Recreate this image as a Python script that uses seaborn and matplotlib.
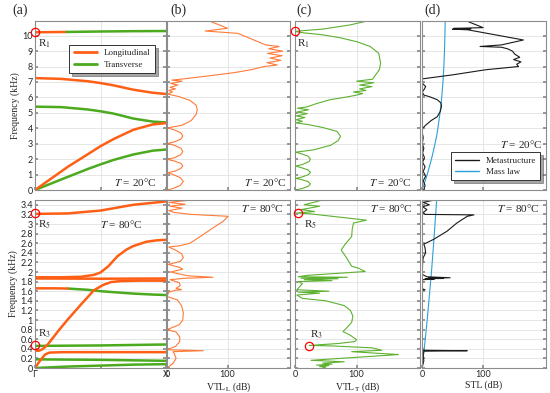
import numpy as np
import matplotlib.pyplot as plt
import seaborn as sns
from matplotlib.lines import Line2D

sns.set_theme(style='whitegrid')
plt.rcParams['font.family'] = ['Liberation Serif', 'DejaVu Serif']
plt.rcParams['mathtext.fontset'] = 'stix'

# colours
c_or = '#FF5F15'
c_gr = '#4BAA1E'
c_or_tl = '#FF7A38'
c_gr_tl = '#5DB130'
c_blk = '#1a1a1a'
c_blue = '#2C9FD8'

# ---------------- band structure, T = 20 C (k from Gamma to X) ----------------
k20_L1 = [0, 0.24]
f20_L1 = [10.22, 10.24]
k20_T1 = [0.24, 0.5, 0.75, 1.0]
f20_T1 = [10.24, 10.27, 10.29, 10.30]
k20_L2 = [0, 0.2, 0.4, 0.5, 0.6, 0.75, 0.9, 1.0]
f20_L2 = [7.25, 7.2, 7.05, 6.93, 6.78, 6.5, 6.3, 6.22]
k20_T2 = [0, 0.2, 0.4, 0.5, 0.6, 0.75, 0.9, 1.0]
f20_T2 = [5.4, 5.37, 5.22, 5.1, 4.95, 4.63, 4.43, 4.38]
k20_L3 = [0, 0.1, 0.25, 0.4, 0.5, 0.6, 0.75, 0.9, 1.0]
f20_L3 = [0, 0.6, 1.5, 2.3, 2.84, 3.3, 3.9, 4.25, 4.33]
k20_T3 = [0, 0.1, 0.25, 0.4, 0.5, 0.6, 0.75, 0.9, 1.0]
f20_T3 = [0, 0.34, 0.85, 1.35, 1.66, 1.95, 2.3, 2.55, 2.62]

# ---------------- band structure, T = 80 C ----------------
k80_L1 = [0, 0.25, 0.5, 0.75, 1.0]
f80_L1 = [3.21, 3.22, 3.28, 3.40, 3.47]
k80_L2 = [0, 0.2, 0.35, 0.45, 0.5, 0.56, 0.63, 0.7, 0.75, 0.85, 0.93, 1.0]
f80_L2 = [1.89, 1.89, 1.9, 1.94, 1.99, 2.12, 2.33, 2.47, 2.54, 2.63, 2.66, 2.67]
k80_L3 = [0, 0.5, 1.0]
f80_L3 = [1.865, 1.86, 1.865]
k80_L4 = [0, 0.15, 0.25]
f80_L4 = [1.66, 1.66, 1.655]
k80_T4 = [0.25, 0.4, 0.5, 0.6, 0.75, 0.9, 1.0]
f80_T4 = [1.655, 1.63, 1.6, 1.58, 1.55, 1.53, 1.52]
k80_L5 = [0, 0.03, 0.05, 0.07, 0.1, 0.18, 0.25, 0.35, 0.45, 0.52, 0.58, 0.65, 0.8, 1.0]
f80_L5 = [0.36, 0.36, 0.38, 0.42, 0.50, 0.78, 1.01, 1.32, 1.62, 1.73, 1.79, 1.81, 1.82, 1.82]
k80_L6 = [0, 0.03, 0.076, 0.11, 0.2, 0.5, 1.0]
f80_L6 = [0, 0.12, 0.28, 0.32, 0.33, 0.33, 0.33]
k80_T1 = [0, 0.5, 1.0]
f80_T1 = [0.46, 0.47, 0.49]
k80_T2 = [0, 0.5, 1.0]
f80_T2 = [0.18, 0.17, 0.15]
k80_T3 = [0, 0.25, 0.5, 0.75, 1.0]
f80_T3 = [0.0, 0.03, 0.05, 0.07, 0.08]

# ---------------- VTL_L, T = 20 C ----------------
vtlL20_f = [0.0, 0.1, 0.3, 0.55, 0.8, 1.0, 1.12, 1.22, 1.4, 1.55, 1.72, 1.88, 1.98,
            2.1, 2.3, 2.5, 2.7, 2.9, 3.01, 3.13, 3.3, 3.5, 3.7, 3.9, 4.02,
            4.2, 4.5, 4.9, 5.2, 5.5, 5.8, 6.05, 6.22, 6.35, 6.45, 6.55, 6.65, 6.8, 6.9,
            7.05, 7.12, 7.2, 7.4, 7.6, 7.8, 8.0, 8.1, 8.25, 8.4, 8.55, 8.7, 8.85, 9.0,
            9.15, 9.3, 9.4, 10.15, 10.3, 10.48, 10.95]
vtlL20_db = [1, 10, 22, 27, 22, 10, 1, 13, 23, 26, 23, 12, 1,
             13, 23, 26, 23, 12, 1, 13, 23, 26, 23, 12, 1,
             25, 40, 48, 50, 48, 38, 20, 1, 9, 3, 14, 5, 18, 6,
             25, 8, 27, 70, 110, 140, 160, 182, 165, 188, 170, 190, 166, 191,
             168, 185, 163, 117, 63, 100, 70]

# ---------------- VTL_T, T = 20 C ----------------
vtlT20_f = [0.0, 0.1, 0.25, 0.4, 0.55, 0.68, 0.75, 0.85, 1.0, 1.15, 1.3, 1.45, 1.55,
            1.65, 1.85, 2.0, 2.2, 2.35, 2.45, 2.6, 2.9, 3.2, 3.48, 3.8, 4.05, 4.25, 4.35,
            4.45, 4.55, 4.7, 4.8, 4.95, 5.05, 5.2, 5.3, 5.38, 5.6, 5.85, 6.0, 6.13,
            6.25, 6.35, 6.45, 6.55, 6.7, 6.8, 6.95, 7.05, 7.18, 7.46, 7.8, 8.22, 8.86,
            9.3, 9.6, 9.85, 10.05, 10.18, 10.22, 10.27, 10.3, 10.43, 10.7, 10.95]
vtlT20_db = [1, 12, 22, 25, 21, 10, 1, 12, 22, 25, 21, 10, 1,
             12, 23, 25, 21, 10, 1, 30, 58, 70, 74, 68, 45, 20, 1,
             12, 2, 16, 2, 20, 3, 22, 4, 19, 35, 57, 80, 98,
             110, 95, 115, 105, 125, 105, 128, 100, 126, 131, 137, 139, 136,
             122, 101, 75, 46, 15, 8, 0, 5.5, 46, 90, 117]

# ---------------- STL, T = 20 C ----------------
stl20_f = [0.0, 0.3, 0.6, 0.9, 1.2, 1.5, 1.8, 2.1, 2.4, 2.7, 3.0, 3.4, 3.7, 4.0,
           4.2, 4.5, 4.75, 5.1, 5.45, 5.64, 5.85, 6.05, 6.15, 6.35, 6.55, 6.7, 6.9, 7.2,
           7.46, 7.79, 8.0, 8.15, 8.3, 8.45, 8.6, 8.8, 9.0, 9.15, 9.25, 9.3, 9.4, 9.72,
           10.38, 10.42, 10.45, 10.47, 10.52, 10.95]
stl20_db = [3, 5, 2, 6, 2, 5, 1, 4, 1, 3, 0.5, 2, 0.5, 1,
            6, 15, 25, 30, 32, 31, 25, 12, 3, 0.5, 4, 6, 1, 0.5,
            50, 104, 158, 155, 162, 150, 160, 152, 148, 140, 130, 95, 130, 166,
            75, 50, 80, 52, 100, 73]

# mass law (same curve for both temperatures)
mass_f = [0, 0.5, 1.0, 1.5, 2.0, 2.5, 3.0, 3.5, 4.0, 5.0, 6.0, 7.0, 8.0, 9.0, 10.0, 11.0]
mass_db = [0, 4.5, 8.5, 12, 15.5, 18.5, 21.3, 24, 26, 29.5, 32.3, 34.3, 35.8, 36.8, 37.5, 38]

# ---------------- VTL_L, T = 80 C ----------------
vtlL80_f = [3.50, 3.45, 3.41, 3.37, 3.33, 3.28, 3.24, 3.2, 3.16, 3.05, 2.92, 2.74, 2.6,
            2.55, 2.52, 2.45, 2.38, 2.3, 2.22, 2.16, 2.1, 2.06, 2.0, 1.96, 1.92, 1.89,
            1.87, 1.84, 1.78, 1.72, 1.66, 1.63, 1.62, 1.58, 1.49, 1.42, 1.3, 1.15, 1.0,
            0.9, 0.8, 0.75, 0.65, 0.55, 0.45, 0.38, 0.36, 0.34, 0.30, 0.2, 0.1, 0.0]
vtlL80_db = [40, 3, 30, 5, 25, 3, 12, 40, 101, 92, 76, 55, 38,
             22, 3, 15, 24, 27, 22, 2, 20, 26, 6, 20, 35, 76,
             30, 5, 20, 22, 15, 24, 14, 3, 0, 17, 24, 27, 26,
             20, 0, 15, 21, 21, 14, 0, 60, 10, 12, 15, 10, 0]

# ---------------- VTL_T, T = 80 C ----------------
vtlT80_f = [3.51, 3.4, 3.37, 3.3, 3.26, 3.23, 3.21, 3.08, 3.02, 2.9, 2.74, 2.57, 2.46,
            2.29, 2.12, 2.08, 2.01, 1.93, 1.90, 1.89, 1.87, 1.86, 1.84, 1.82, 1.80,
            1.76, 1.70, 1.63, 1.60, 1.58, 1.56, 1.52, 1.45, 1.40, 1.3, 1.2, 1.08, 0.95,
            0.85, 0.76, 0.68, 0.59, 0.55, 0.51, 0.47, 0.46, 0.42, 0.37, 0.34, 0.28,
            0.16, 0.13, 0.1, 0.08, 0.06, 0.05, 0.03, 0.02, 0.0]
vtlT80_db = [48, 15, 40, 10, 32, 3, 26, 116, 95, 93, 92, 81, 75,
             84, 92, 103, 114, 20, 5, 85, 10, 70, 15, 60, 5,
             12, 8, 3, 55, 5, 40, 3, 12, 50, 80, 90, 94, 92,
             85, 78, 90, 100, 97, 70, 23, 60, 125, 141, 92, 168,
             26, 80, 45, 60, 35, 55, 40, 50, 45]

# ---------------- STL, T = 80 C ----------------
stl80_f = [3.5, 3.45, 3.4, 3.36, 3.3, 3.24, 3.2, 3.19, 3.16, 3.02, 2.85, 2.68, 2.58,
           2.5, 2.4, 2.3, 2.2, 1.95, 1.9, 1.88, 1.87, 1.865, 1.86, 1.85, 1.84, 1.65,
           1.63, 1.62, 0.37, 0.36, 0.35, 0.25, 0.15, 0.05, 0.0]
stl80_db = [20, 2, 12, 1, 8, 2, 5, 85, 74, 57, 41, 19, 3,
            5, 6, 2, 1, 0.5, 8, 46, 10, 35, 5, 20, 1, 0.5,
            5, 0.5, 0.5, 74, 3, 2, 3, 1, 0]

# ---------------- figure ----------------
fig = plt.figure(figsize=(5.5, 3.93), dpi=100)
W, H = 550.0, 393.0
cols = [(35, 131), (167, 123), (295, 125), (422, 124)]
rows = [(21, 190), (200, 368)]
axes = [[fig.add_axes([x0 / W, 1 - yb / H, w / W, (yb - yt) / H]) for (x0, w) in cols]
        for (yt, yb) in rows]

spine_c = '#8c8c8c'
for r, row in enumerate(axes):
    for c, ax in enumerate(row):
        ax.set_facecolor('white')
        for s in ax.spines.values():
            s.set_color(spine_c)
            s.set_linewidth(0.8)
        ax.grid(True, color='#e2e2e2', lw=0.6)
        ax.tick_params(direction='in', length=2.5, color=spine_c, left=True, right=True,
                       bottom=True, labelsize=6.5, pad=1.5,
                       labelfontfamily=['Lato', 'DejaVu Sans'])
        if r == 0:
            ax.set_ylim(0, 10.95)
            ax.set_yticks(range(0, 11))
        else:
            ax.set_ylim(0, 3.5)
            yt = np.round(np.arange(0, 3.41, 0.2), 1)
            ax.set_yticks(yt)
            ax.set_yticklabels(['%g' % v for v in yt])
        if c == 0:
            ax.set_xlim(0, 1)
            ax.set_xticks([0, 0.5, 1])
            ax.set_xticklabels(['Γ', '', 'X'])
            ax.set_ylabel('Frequency (kHz)', fontsize=7, labelpad=2)
        else:
            ax.set_xlim(0, 203)
            ax.set_xticks([0, 100])
            ax.tick_params(labelleft=False)
        if r == 0:
            ax.tick_params(labelbottom=False)

# band structures
def band(ax, k, f, col):
    sns.lineplot(x=k, y=f, sort=False, estimator=None, color=col, lw=1.8, ax=ax)

a0 = axes[0][0]
for k, f, col in [(k20_L1, f20_L1, c_or), (k20_T1, f20_T1, c_gr), (k20_L2, f20_L2, c_or),
                  (k20_T2, f20_T2, c_gr), (k20_T3, f20_T3, c_gr), (k20_L3, f20_L3, c_or)]:
    band(a0, k, f, col)
a1 = axes[1][0]
for k, f, col in [(k80_L1, f80_L1, c_or), (k80_L2, f80_L2, c_or), (k80_L3, f80_L3, c_or),
                  (k80_T4, f80_T4, c_gr), (k80_L4, f80_L4, c_or),
                  (k80_T1, f80_T1, c_gr), (k80_T2, f80_T2, c_gr), (k80_T3, f80_T3, c_gr),
                  (k80_L6, f80_L6, c_or), (k80_L5, f80_L5, c_or)]:
    band(a1, k, f, col)

# transmission loss curves
def tl(ax, f, db, col):
    sns.lineplot(x=db, y=f, sort=False, estimator=None, color=col, lw=0.8, ax=ax)

tl(axes[0][1], vtlL20_f, vtlL20_db, c_or_tl)
tl(axes[0][2], vtlT20_f, vtlT20_db, c_gr_tl)
tl(axes[0][3], mass_f, mass_db, c_blue)
tl(axes[0][3], stl20_f, stl20_db, c_blk)
tl(axes[1][1], vtlL80_f, vtlL80_db, c_or_tl)
tl(axes[1][2], vtlT80_f, vtlT80_db, c_gr_tl)
tl(axes[1][3], mass_f, mass_db, c_blue)
tl(axes[1][3], stl80_f, stl80_db, c_blk)

axes[0][3].set_ylim(0, 10.95)
axes[1][3].set_ylim(0, 3.5)

# resonance markers
def ring(ax, x, y):
    ax.plot([x], [y], marker='o', ms=6, mfc='none', mec='red', mew=0.9, clip_on=False, zorder=5)

ring(a0, 0, 10.22)
ring(axes[0][2], 0, 10.27)
ring(a1, 0, 3.22)
ring(a1, 0, 0.47)
ring(axes[1][2], 5.5, 3.23)
ring(axes[1][2], 23.5, 0.46)

rk = dict(fontsize=8, va='center')
a0.text(0.02, 9.45, 'R$_1$', **rk)
axes[0][2].text(4, 9.45, 'R$_1$', **rk)
a1.text(0.02, 2.99, 'R$_5$', **rk)
a1.text(0.02, 0.71, 'R$_3$', **rk)
axes[1][2].text(14, 2.99, 'R$_5$', **rk)
axes[1][2].text(24, 0.69, 'R$_3$', **rk)

# temperature annotations
for ax, x, y, ha, s in [(a0, 0.93, 0.05, 'right', '$T$ = 20°C'),
                        (axes[0][1], 0.97, 0.05, 'right', '$T$ = 20°C'),
                        (axes[0][2], 0.93, 0.05, 'right', '$T$ = 20°C'),
                        (axes[0][3], 0.97, 0.27, 'right', '$T$ = 20°C'),
                        (a1, 0.66, 0.86, 'center', '$T$ = 80°C'),
                        (axes[1][1], 0.95, 0.95, 'right', '$T$ = 80°C'),
                        (axes[1][2], 0.94, 0.95, 'right', '$T$ = 80°C'),
                        (axes[1][3], 0.95, 0.95, 'right', '$T$ = 80°C')]:
    ax.text(x, y, s, ha=ha, va='center', fontsize=8, transform=ax.transAxes)

# x labels
axes[1][1].set_xlabel('VTL$_\\mathrm{L}$ (dB)', fontsize=7, labelpad=1)
axes[1][2].set_xlabel('VTL$_\\mathrm{T}$ (dB)', fontsize=7, labelpad=1)
axes[1][3].set_xlabel('STL (dB)', fontsize=7, labelpad=1)

# legends
lg = a0.legend(handles=[Line2D([], [], color=c_or, lw=2, label='Longitudinal'),
                        Line2D([], [], color=c_gr, lw=2, label='Transverse')],
               loc='upper right', bbox_to_anchor=(0.95, 0.885), fontsize=6.5,
               shadow=True, fancybox=False, edgecolor='#333333', framealpha=1,
               handlelength=2.6, labelspacing=0.35, borderpad=0.45)
lg.get_frame().set_linewidth(0.7)
lg2 = axes[0][3].legend(handles=[Line2D([], [], color=c_blk, lw=1, label='Metastructure'),
                                 Line2D([], [], color=c_blue, lw=1, label='Mass law')],
                        loc='lower right', bbox_to_anchor=(0.99, 0.03), fontsize=6.5,
                        shadow=True, fancybox=False, edgecolor='#333333', framealpha=1,
                        handlelength=2.6, labelspacing=0.35, borderpad=0.45)
lg2.get_frame().set_linewidth(0.7)

# panel letters
for x, s in [(12, '(a)'), (170, '(b)'), (296, '(c)'), (424, '(d)')]:
    fig.text(x / W, 1 - 10 / H, s, fontsize=10, va='center', ha='left')

fig.savefig('out.png', dpi=100)
